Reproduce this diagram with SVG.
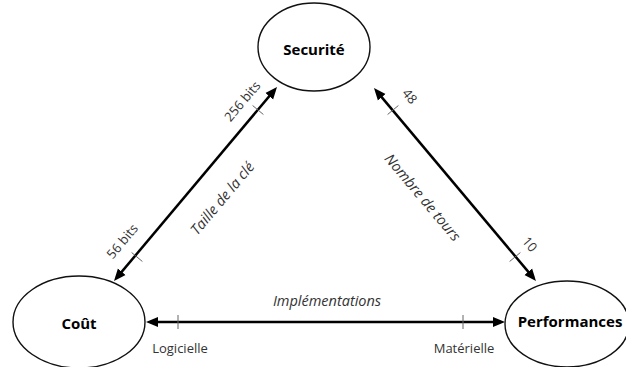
<svg xmlns="http://www.w3.org/2000/svg" width="626" height="367" viewBox="0 0 626 367">
<style>
.node{fill:#fff;stroke:#111;stroke-width:1.4}
.nt{font-family:"Open Sans","Noto Sans",sans-serif;font-weight:bold;font-size:15px;fill:#000;text-anchor:middle;dominant-baseline:central}
.edge{stroke:#000;stroke-width:2.5;fill:none;marker-start:url(#ah);marker-end:url(#ah)}
.tick{stroke:#666;stroke-width:1}
.lbl{font-family:"Open Sans","Noto Sans",sans-serif;font-size:13px;fill:#333;text-anchor:middle;dominant-baseline:central}
.ital{font-family:"Open Sans","Noto Sans",sans-serif;font-style:italic;font-size:14.5px;fill:#333;text-anchor:middle;dominant-baseline:central}
</style>
<defs>
<marker id="ah" markerUnits="userSpaceOnUse" markerWidth="13" markerHeight="11" refX="8" refY="5" orient="auto-start-reverse" viewBox="0 0 13 10">
<path d="M0,0 L12,5 L0,10 z" fill="#000"/>
</marker>
</defs>
<rect width="626" height="367" fill="#fff"/>
<g id="connectors">
<line class="edge" x1="116.6" y1="277.9" x2="274.4" y2="90.1"/>
<line class="edge" x1="376.6" y1="91.1" x2="533.4" y2="277.9"/>
<line class="edge" x1="150" y1="322" x2="501" y2="322"/>
<line class="tick" x1="252.6" y1="105.5" x2="263.4" y2="114.5"/>
<line class="tick" x1="131.6" y1="252.5" x2="142.4" y2="261.5"/>
<line class="tick" x1="387.6" y1="114.5" x2="398.4" y2="105.5"/>
<line class="tick" x1="509.6" y1="261.5" x2="520.4" y2="252.5"/>
<line class="tick" x1="178" y1="315" x2="178" y2="329"/>
<line class="tick" x1="463" y1="315" x2="463" y2="329"/>
<text class="lbl" transform="translate(242,101) rotate(-50)">256 bits</text>
<text class="lbl" transform="translate(122,241) rotate(-50)">56 bits</text>
<text class="ital" transform="translate(222,198) rotate(-50)">Taille de la clé</text>
<text class="lbl" transform="translate(410,96) rotate(50)">48</text>
<text class="lbl" transform="translate(530,244) rotate(50)">10</text>
<text class="ital" transform="translate(423,197) rotate(50)">Nombre de tours</text>
<text class="ital" x="327" y="300">Implémentations</text>
<text class="lbl" x="180" y="348">Logicielle</text>
<text class="lbl" x="464" y="348">Matérielle</text>
</g>
<g id="securite">
<ellipse class="node" cx="314" cy="47" rx="56" ry="44"/>
<text class="nt" x="314" y="49">Securité</text>
</g>
<g id="cout">
<ellipse class="node" cx="79" cy="322" rx="66" ry="46"/>
<text class="nt" x="79" y="323">Coût</text>
</g>
<g id="performances">
<ellipse class="node" cx="567" cy="324" rx="62" ry="43"/>
<text class="nt" x="570" y="321">Performances</text>
</g>
</svg>
